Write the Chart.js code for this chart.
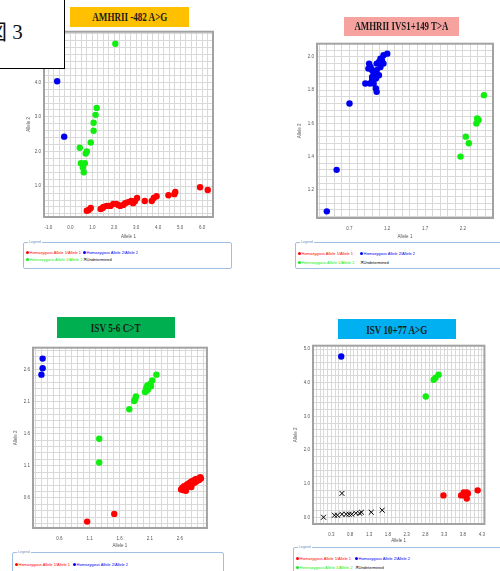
<!DOCTYPE html>
<html><head><meta charset="utf-8">
<script src="https://cdn.jsdelivr.net/npm/chart.js@4.4.0/dist/chart.umd.min.js"></script>
<style>
html,body{margin:0;padding:0;background:#fff;}
body{width:500px;height:571px;overflow:hidden;position:relative;font-family:"Liberation Sans",Arial,sans-serif;}
canvas{position:absolute;}
.title{position:absolute;display:flex;align-items:center;justify-content:center;overflow:hidden;}
.title span{display:inline-block;font-family:"Liberation Serif",serif;font-weight:bold;color:#1a1a1a;white-space:nowrap;line-height:1;transform-origin:50% 50%;}
.legend{position:absolute;border:1px solid #9fc0e4;border-radius:2px;background:#fff;}
.lgt{position:absolute;left:4px;top:-3px;font-size:3.5px;color:#6f8fb8;background:#fff;padding:0 1px;line-height:4px;}
.it{position:absolute;font-size:4px;line-height:5px;white-space:nowrap;}
.mk{position:absolute;width:3px;height:3px;border-radius:50%;}
.fig{position:absolute;left:-3px;top:-3px;width:66px;height:70px;border:1.5px solid #000;background:#fff;z-index:5;}
.fig span{position:absolute;left:-12px;top:23px;font-size:21px;line-height:22px;font-family:"Liberation Serif","Noto Sans CJK JP",serif;color:#111;white-space:nowrap;}
</style>
</head><body>
<div class="fig"><span>図&nbsp;3</span></div>
<script>
// ---------- series ----------
const seriesNames = ['Homozygous Allele 1/Allele 1','Homozygous Allele 2/Allele 2','Heterozygous Allele 1/Allele 2','Undetermined'];
const panelTitles = ['AMHRII -482 A>G','AMHRII IVS1+149 T>A','ISV 5-6 C>T','ISV 10+77 A>G'];
const axisTitles = ['Allele 1','Allele 2'];

// ---------- panel 1 data [Allele 1, Allele 2] ----------
const p1Hom1 = [[0.75,0.29],[0.84,0.31],[0.93,0.37],[1.38,0.34],[1.47,0.37],[1.51,0.40],[1.65,0.43],[1.74,0.43],[1.83,0.43],[1.96,0.49],[2.09,0.49],[2.18,0.46],[2.27,0.43],[2.41,0.46],[2.50,0.51],[2.63,0.54],[2.77,0.57],[2.86,0.51],[2.95,0.57],[3.04,0.66],[3.39,0.57],[3.71,0.57],[3.80,0.66],[3.93,0.71],[4.47,0.74],[4.74,0.77],[4.78,0.83],[5.91,0.97],[6.26,0.89]];
const p1Hom2 = [[-0.60,4.03],[-0.28,2.43]];
const p1Het = [[2.05,5.11],[1.20,3.26],[1.15,3.06],[1.06,2.83],[1.06,2.60],[0.93,2.26],[0.75,2.00],[0.70,1.94],[0.43,2.11],[0.48,1.66],[0.66,1.66],[0.61,1.40],[0.57,1.54]];
const p1Und = [];
const p1XTicks = [-1,0,1,2,3,4,5,6];
const p1YTicks = [1,2,3,4];

// ---------- panel 2 ----------
const p2Hom1 = [];
const p2Hom2 = [[1.20,2.02],[1.15,2.01],[1.11,1.99],[1.13,1.98],[1.09,1.97],[1.15,1.96],[1.06,1.96],[0.96,1.96],[0.98,1.94],[1.11,1.94],[0.95,1.93],[1.00,1.92],[1.06,1.92],[1.02,1.90],[1.09,1.89],[1.00,1.88],[1.05,1.87],[1.00,1.86],[0.91,1.84],[0.97,1.84],[1.02,1.84],[1.05,1.81],[1.06,1.79],[0.70,1.72],[0.53,1.32],[0.40,1.07]];
const p2Het = [[2.48,1.77],[2.39,1.63],[2.38,1.60],[2.41,1.62],[2.24,1.52],[2.28,1.48],[2.17,1.40]];
const p2Und = [];
const p2XTicks = [0.7,1.2,1.7,2.2];
const p2YTicks = [1.2,1.4,1.6,1.8,2.0];

// ---------- panel 3 ----------
const p3Hom1 = [[1.06,0.23],[1.51,0.35],[2.62,0.73],[2.64,0.76],[2.66,0.72],[2.67,0.78],[2.69,0.75],[2.70,0.71],[2.71,0.80],[2.72,0.76],[2.74,0.82],[2.75,0.78],[2.77,0.84],[2.78,0.80],[2.79,0.77],[2.80,0.86],[2.81,0.82],[2.83,0.87],[2.85,0.84],[2.86,0.89],[2.88,0.86],[2.90,0.90],[2.92,0.88],[2.94,0.92],[2.95,0.90]];
const p3Hom2 = [[0.32,2.77],[0.32,2.62],[0.30,2.52]];
const p3Het = [[2.21,2.52],[2.14,2.43],[2.11,2.38],[2.06,2.35],[2.04,2.31],[2.07,2.29],[2.02,2.25],[2.12,2.34],[2.04,2.26],[1.87,2.18],[1.86,2.14],[1.84,2.11],[1.76,1.98],[1.26,1.52],[1.26,1.15]];
const p3Und = [];
const p3XTicks = [0.6,1.1,1.6,2.1,2.6];
const p3YTicks = [0.6,1.1,1.6,2.1,2.6];

// ---------- panel 4 ----------
const p4Hom1 = [[3.28,0.65],[3.75,0.65],[3.82,0.74],[3.90,0.74],[3.93,0.71],[3.90,0.56],[3.85,0.65],[4.19,0.80]];
const p4Hom2 = [[0.56,4.78]];
const p4Het = [[2.81,3.59],[3.02,4.09],[3.07,4.15],[3.15,4.24]];
const p4Und = [[0.58,0.71],[0.09,0.00],[0.38,0.06],[0.46,0.06],[0.58,0.09],[0.69,0.09],[0.77,0.09],[0.84,0.09],[0.95,0.12],[1.05,0.12],[1.10,0.15],[1.36,0.15],[1.65,0.21]];
const p4XTicks = [0.3,0.8,1.3,1.8,2.3,2.8,3.3,3.8,4.3];
const p4YTicks = [0,1,2,3,4,5];

// ---------- styling / layout ----------
const seriesColors = ['#ff0000','#0000f0','#10ee10','#000000'];
const titleColors = ['#ffc000','#f6a3a0','#00b050','#00b0f0'];

const panels = [
  {series:[p1Hom1,p1Hom2,p1Het,p1Und], xt:p1XTicks, yt:p1YTicks, area:{l:44,t:30,r:217,b:217}, x:{min:-1.2,max:6.5,step:0.25}, y:{min:0.11,max:5.46,step:0.2}, yw:18, xh:22,
   title:{l:70,t:7,w:119,h:20,fs:12.5,tw:75}, legend:{l:23,t:242,w:207,h:25,r1:9,r2:16,c2:60}},
  {series:[p2Hom1,p2Hom2,p2Het,p2Und], xt:p2XTicks, yt:p2YTicks, area:{l:317,t:42,r:497,b:218}, x:{min:0.27,max:2.6,step:0.1}, y:{min:1.03,max:2.08,step:0.04}, yw:20, xh:21,
   title:{l:344,t:17,w:115,h:19,fs:12.5,tw:94}, legend:{l:295,t:242,w:210,h:25,r1:10,r2:19,c2:65}},
  {series:[p3Hom1,p3Hom2,p3Het,p3Und], xt:p3XTicks, yt:p3YTicks, area:{l:33,t:346,r:208,b:528}, x:{min:0.16,max:3.05,step:0.1}, y:{min:0.13,max:2.94,step:0.1}, yw:20, xh:20,
   title:{l:57,t:317,w:118,h:21,fs:13.5,tw:50}, legend:{l:12,t:552,w:210,h:30,r1:11,r2:19,c2:61}},
  {series:[p4Hom1,p4Hom2,p4Het,p4Und], xt:p4XTicks, yt:p4YTicks, area:{l:313,t:344,r:489,b:524}, x:{min:-0.19,max:4.37,step:0.1}, y:{min:-0.2,max:5.1,step:0.2}, yw:20, xh:19,
   title:{l:338,t:319,w:118,h:20,fs:13,tw:61}, legend:{l:293,t:547,w:215,h:30,r1:10,r2:19,c2:62}}
];

const framePlugin = {id:'frame', beforeDatasetsDraw(chart){
  const {ctx, chartArea:a} = chart;
  ctx.save(); ctx.strokeStyle = '#a2a2a2'; ctx.lineWidth = 2;
  ctx.strokeRect(a.left, a.top, a.right - a.left, a.bottom - a.top); ctx.restore();
}};

function labelFmt(list){
  return function(v){ for (const L of list) if (Math.abs(v - L) < 1e-6) return L.toFixed(1); return ''; };
}

const PAD = 4;
panels.forEach((p, i) => {
  const a = p.area;
  const cv = document.createElement('canvas');
  const left = a.l - p.yw, top = a.t - PAD;
  const w = (a.r - a.l) + p.yw + PAD, h = (a.b - a.t) + PAD + p.xh;
  cv.width = w; cv.height = h;
  cv.style.left = left + 'px'; cv.style.top = top + 'px';
  cv.style.width = w + 'px'; cv.style.height = h + 'px';
  document.body.appendChild(cv);

  const datasets = p.series.map((d, k) => ({
    label: seriesNames[k],
    data: d.map(pt => ({x: pt[0], y: pt[1]})),
    backgroundColor: seriesColors[k],
    borderColor: seriesColors[k],
    pointStyle: k === 3 ? 'crossRot' : 'circle',
    pointRadius: k === 3 ? 3.5 : 3.2,
    borderWidth: k === 3 ? 1 : 0
  }));

  const tickFont = {family:'Liberation Sans', size:4.5};
  new Chart(cv, {
    type: 'scatter',
    data: {datasets},
    options: {
      responsive: false, animation: false, devicePixelRatio: 1,
      layout: {padding: {top: PAD, right: PAD, left: 0, bottom: 0}},
      plugins: {legend: {display: false}, tooltip: {enabled: false}},
      scales: {
        x: {type: 'linear', min: p.x.min, max: p.x.max,
            afterFit: s => { s.height = p.xh; },
            grid: {color: '#d9d9d9', lineWidth: 1, drawTicks: false},
            border: {display: false},
            ticks: {stepSize: p.x.step, includeBounds: false, autoSkip: false, maxRotation: 0, minRotation: 0, padding: 8, color: '#555', font: tickFont, callback: labelFmt(p.xt)},
            title: {display: true, text: axisTitles[0], color: '#555', font: {family:'Liberation Sans', size: 4.5}, padding: 0}},
        y: {type: 'linear', min: p.y.min, max: p.y.max,
            afterFit: s => { s.width = p.yw; },
            grid: {color: '#d9d9d9', lineWidth: 1, drawTicks: false},
            border: {display: false},
            ticks: {stepSize: p.y.step, includeBounds: false, autoSkip: false, padding: 3, color: '#555', font: tickFont, callback: labelFmt(p.yt)},
            title: {display: true, text: axisTitles[1], color: '#555', font: {family:'Liberation Sans', size: 4.5}, padding: 0}}
      }
    },
    plugins: [framePlugin]
  });

  // title box
  const t = document.createElement('div');
  t.className = 'title';
  t.style.cssText = `left:${p.title.l}px;top:${p.title.t}px;width:${p.title.w}px;height:${p.title.h}px;background:${titleColors[i]};`;
  const ts = document.createElement('span');
  ts.style.fontSize = p.title.fs + 'px';
  ts.textContent = panelTitles[i];
  t.appendChild(ts);
  document.body.appendChild(t);
  const natural = ts.getBoundingClientRect().width;
  if (natural > 0) ts.style.transform = `scaleX(${(p.title.tw / natural).toFixed(3)})`;

  // legend box
  const L = p.legend;
  const lg = document.createElement('div');
  lg.className = 'legend';
  lg.style.cssText = `left:${L.l}px;top:${L.t}px;width:${L.w}px;height:${L.h}px;`;
  lg.innerHTML = '<span class="lgt">Legend</span>';
  const pos = [[3, L.r1], [L.c2, L.r1], [3, L.r2], [L.c2, L.r2]];
  seriesNames.forEach((name, k) => {
    const [x, y] = pos[k];
    if (k === 3) {
      const m = document.createElement('span');
      m.className = 'it'; m.style.cssText = `left:${x-1}px;top:${y-2.5}px;color:#000;font-size:5px;`;
      m.textContent = '✕';
      lg.appendChild(m);
    } else {
      const m = document.createElement('span');
      m.className = 'mk'; m.style.cssText = `left:${x-1.5}px;top:${y-1.5}px;background:${seriesColors[k]};`;
      lg.appendChild(m);
    }
    const s = document.createElement('span');
    s.className = 'it'; s.style.cssText = `left:${x+2.5}px;top:${y-2.5}px;color:${seriesColors[k]};`;
    s.textContent = name;
    lg.appendChild(s);
  });
  document.body.appendChild(lg);
});
</script>
</body></html>
